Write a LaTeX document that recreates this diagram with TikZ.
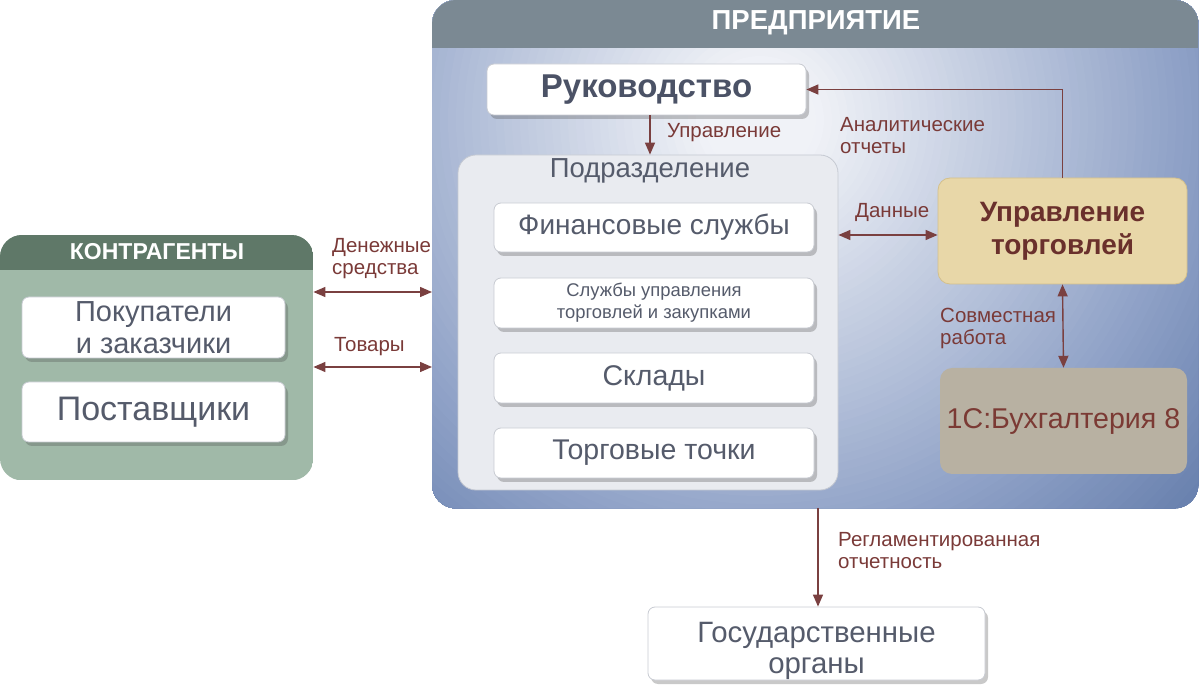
\documentclass[tikz,border=0pt]{standalone}
\usepackage{fontspec}
\setmainfont{Liberation Sans}
\usetikzlibrary{shadows,arrows.meta}
\definecolor{entin}{HTML}{F0F2F7}
\definecolor{entmid}{HTML}{8DA0C6}
\definecolor{entout}{HTML}{6079A8}
\definecolor{enthead}{HTML}{7B8993}
\definecolor{kbody}{HTML}{A0B9A8}
\definecolor{khead}{HTML}{5F7868}
\definecolor{subfill}{HTML}{E9EBF0}
\definecolor{subdraw}{HTML}{C5C9D2}
\definecolor{boxdraw}{HTML}{C8CBD2}
\definecolor{boxtext}{HTML}{555B6B}
\definecolor{rukc}{HTML}{4B5266}
\definecolor{arrowc}{HTML}{7A4040}
\definecolor{labc}{HTML}{7A3A38}
\definecolor{tradefill}{HTML}{E8D7A8}
\definecolor{tradedraw}{HTML}{D4C08C}
\definecolor{tradetext}{HTML}{6A302C}
\definecolor{accfill}{HTML}{B8B1A2}
\definecolor{acctext}{HTML}{7B3A34}
\begin{document}
\begin{tikzpicture}[x=1pt,y=-1pt,
  wbox/.style={draw=boxdraw, line width=0.8pt, fill=white, rounded corners=7pt,
    drop shadow={shadow xshift=3pt, shadow yshift=-4pt, opacity=0.3, fill=black!70},
    inner sep=0pt, align=center, text=boxtext},
  lab/.style={text=labc, font=\fontsize{20.5}{22}\selectfont, align=left, anchor=west, inner sep=0pt},
  tip/.tip={Triangle[length=12pt,width=10pt]},
  arr/.style={draw=arrowc, line width=1.4pt, -tip},
  dbl/.style={draw=arrowc, line width=1.4pt, tip-tip},
  frame/.style={inner sep=0pt, anchor=north west},
]
\useasboundingbox (0,0) rectangle (1200,692);

% Enterprise
\node[frame, minimum width=766pt, minimum height=508pt] (ent) at (432,0) {};
\begin{scope}
  \clip[rounded corners=24pt] (ent.north west) rectangle (ent.south east);
  \fill[entout] (ent.north west) rectangle (ent.south east);
  \foreach \rr in {640,632,...,8} {
    \pgfmathsetmacro\pa{min(100,max(0,(620-\rr)/1.9))}
    \pgfmathsetmacro\pb{min(100,max(0,(430-\rr)/3.7))}
    \colorlet{cone}{entmid!\pa!entout}
    \colorlet{ctwo}{entin!\pb!cone}
    \fill[ctwo] (760,120) circle (\rr pt);
  }
  \fill[enthead] (ent.north west) rectangle ([yshift=-48pt]ent.north east);
\end{scope}
\node[text=white, font=\bfseries\fontsize{27.5}{30}\selectfont] (entt) at (816,23) {ПРЕДПРИЯТИЕ};

% Kontragenty
\node[frame, minimum width=313pt, minimum height=245pt] (kontr) at (0,235) {};
\begin{scope}
  \clip[rounded corners=22pt] (kontr.north west) rectangle (kontr.south east);
  \fill[kbody] (kontr.north west) rectangle (kontr.south east);
  \fill[khead] (kontr.north west) rectangle ([yshift=-35pt]kontr.north east);
\end{scope}
\node[text=white, font=\bfseries\fontsize{23}{26}\selectfont] (kt) at (157,252) {КОНТРАГЕНТЫ};
\node[wbox, minimum width=263pt, minimum height=61pt, font=\fontsize{29}{32}\selectfont] (pok) at (153.5,327.5) {Покупатели\\и заказчики};
\node[wbox, minimum width=263pt, minimum height=60pt, font=\fontsize{34}{38}\selectfont] (post) at (153.5,412) {Поставщики};

% Rukovodstvo
\node[wbox, minimum width=319pt, minimum height=51pt, text=rukc, font=\bfseries\fontsize{33}{36}\selectfont] (ruk) at (646.5,89.5) {Руководство};

% Podrazdelenie
\node[draw=subdraw, fill=subfill, line width=0.8pt, rounded corners=18pt, minimum width=380pt, minimum height=335pt, inner sep=0pt] (sub) at (648,322.5) {};
\node[text=boxtext, font=\fontsize{27.5}{30}\selectfont] (subt) at (650,171) {Подразделение};
\node[wbox, minimum width=320pt, minimum height=49pt, font=\fontsize{28}{30}\selectfont] (fin) at (654,227.5) {Финансовые службы};
\node[wbox, minimum width=320pt, minimum height=50pt, font=\fontsize{18.4}{22}\selectfont] (slu) at (654,303) {Службы управления\\торговлей и закупками};
\node[wbox, minimum width=320pt, minimum height=50pt, font=\fontsize{28.5}{30}\selectfont] (skl) at (654,378) {Склады};
\node[wbox, minimum width=320pt, minimum height=50pt, font=\fontsize{28.5}{30}\selectfont] (tor) at (654,453) {Торговые точки};

% Right boxes
\node[draw=tradedraw, fill=tradefill, line width=0.8pt, rounded corners=12pt, minimum width=249pt, minimum height=106pt, inner sep=0pt, align=center, text=tradetext, font=\bfseries\fontsize{28}{33}\selectfont] (trade) at (1062.5,231) {Управление\\торговлей};
\node[fill=accfill, rounded corners=12pt, minimum width=247pt, minimum height=106pt, inner sep=0pt, text=acctext, font=\fontsize{28.6}{32}\selectfont] (acc) at (1063.5,421) {1С:Бухгалтерия 8};

% Gos organy
\node[wbox, minimum width=337pt, minimum height=73pt, font=\fontsize{29.4}{31}\selectfont] (gos) at (816.5,643.5) {\rule{0pt}{35pt}Государственные\\органы};

% Connectors
\coordinate (xu) at (650,0);
\draw[arr] (ruk.south -| xu) -- (sub.north -| xu);
\node[lab] (lu) at (667,133) {Управление};

\draw[arr] (trade.north) |- (ruk.east);
\node[lab] (la) at (840,136) {Аналитические\\отчеты};

\coordinate (yd) at (0,235);
\draw[dbl] (sub.east |- yd) -- (trade.west |- yd);
\node[lab] (ld) at (855,212) {Данные};

\draw[dbl] (trade.south) -- (acc.north);
\node[lab] (ls) at (940,328) {Совместная\\работа};

\coordinate (ym) at (0,292);
\draw[dbl] (kontr.east |- ym) -- (ent.west |- ym);
\node[lab] (lm) at (332,259) {Денежные\\средства};

\coordinate (yt) at (0,367);
\draw[dbl] (kontr.east |- yt) -- (ent.west |- yt);
\node[lab] (lt) at (334,347) {Товары};

\coordinate (xr) at (818,0);
\draw[arr] (ent.south -| xr) -- (gos.north -| xr);
\node[lab] (lr) at (838,551) {Регламентированная\\отчетность};
\end{tikzpicture}
\end{document}
